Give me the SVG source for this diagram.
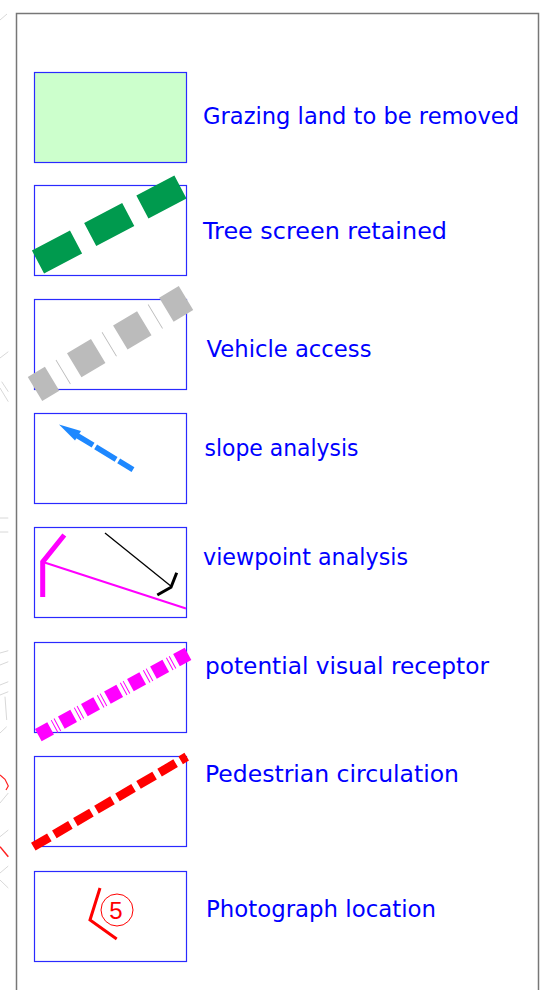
<svg xmlns="http://www.w3.org/2000/svg" width="541" height="990" viewBox="0 0 541 990">
<style>
.box{fill:#fff;stroke:#2a2aff;stroke-width:1.2}
.lbl{font-family:"DejaVu Sans",sans-serif;font-size:23px;fill:#0000ff}
.bg{stroke:#d8d8d8;stroke-width:1;fill:none}
</style>
<rect width="541" height="990" fill="#fff"/>
<g id="background">
<line class="bg" x1="0" y1="20" x2="7" y2="14"/>
<line class="bg" x1="0" y1="358" x2="8.3" y2="351.7"/>
<line class="bg" x1="1.7" y1="381.7" x2="8.3" y2="391.7"/>
<line class="bg" x1="0" y1="388" x2="8.3" y2="401.7"/>
<line class="bg" x1="0" y1="518" x2="8.3" y2="518"/>
<line class="bg" x1="0" y1="532" x2="8.3" y2="532"/>
<line class="bg" x1="0" y1="653" x2="8.3" y2="650.7"/>
<line class="bg" x1="0" y1="665" x2="8.3" y2="661.7"/>
<line class="bg" x1="0" y1="685" x2="8.3" y2="681.7"/>
<line class="bg" x1="0" y1="695" x2="8.3" y2="691.7"/>
<line class="bg" x1="5" y1="696.7" x2="6.7" y2="720"/>
<line class="bg" x1="0" y1="733" x2="6.7" y2="726.7"/>
<line class="bg" x1="0" y1="803" x2="8.3" y2="793"/>
<line class="bg" x1="0" y1="836.7" x2="8.3" y2="830"/>
<line class="bg" x1="0" y1="873" x2="8.3" y2="866"/>
<line class="bg" x1="0" y1="880" x2="8.3" y2="888"/>
<polyline points="0,775 5,779.3 8.3,786 6,790" fill="none" stroke="#ff2020" stroke-width="1.2"/>
<line x1="0" y1="846.7" x2="8.3" y2="856.7" stroke="#ff2020" stroke-width="1.5"/>
</g>
<g id="frame">
<polyline points="16.5,990 16.5,13.5 538.5,13.5 538.5,990" fill="none" stroke="#777" stroke-width="1.5"/>
</g>
<g id="grazing-land">
<rect x="34.5" y="72.5" width="152" height="90" fill="#ccffcc" stroke="#2a2aff" stroke-width="1.2"/>
<text class="lbl" x="203" y="124" textLength="316" lengthAdjust="spacingAndGlyphs">Grazing land to be removed</text>
</g>
<g id="tree-screen">
<rect class="box" x="34.5" y="185.5" width="152" height="90"/>
<line x1="38" y1="262" x2="187" y2="183.5" stroke="#009a4e" stroke-width="26" stroke-dasharray="43 16"/>
<text class="lbl" x="203" y="238.5" textLength="244" lengthAdjust="spacingAndGlyphs">Tree screen retained</text>
</g>
<g id="vehicle-access">
<rect class="box" x="34.5" y="299.5" width="152" height="90"/>
<line x1="35" y1="389" x2="186" y2="298" stroke="#bbbbbb" stroke-width="28" stroke-dasharray="28 12.5 0.8 12.5" stroke-dashoffset="8"/>
<text class="lbl" x="206.5" y="357" textLength="165" lengthAdjust="spacingAndGlyphs">Vehicle access</text>
</g>
<g id="slope-analysis">
<rect class="box" x="34.5" y="413.5" width="152" height="90"/>
<polygon points="59,424.5 81,431 75,440.5" fill="#1e88ff"/>
<line x1="76" y1="434.8" x2="133" y2="469.6" stroke="#1e88ff" stroke-width="5.5" stroke-dasharray="20 3 24 3 17"/>
<text class="lbl" x="204.5" y="455.5" textLength="154" lengthAdjust="spacingAndGlyphs">slope analysis</text>
</g>
<g id="viewpoint-analysis">
<rect class="box" x="34.5" y="527.5" width="152" height="90"/>
<polyline points="42.7,597 42.7,562 64.3,535" fill="none" stroke="#ff00ff" stroke-width="5"/>
<line x1="43" y1="562" x2="186" y2="608.5" stroke="#ff00ff" stroke-width="2"/>
<line x1="105" y1="533" x2="171.7" y2="586.7" stroke="#000" stroke-width="1.3"/>
<polyline points="176.7,572.7 171,587.3 157.3,595" fill="none" stroke="#000" stroke-width="3"/>
<text class="lbl" x="203" y="564.5" textLength="205" lengthAdjust="spacingAndGlyphs">viewpoint analysis</text>
</g>
<g id="visual-receptor">
<rect class="box" x="34.5" y="642.5" width="152" height="90"/>
<line x1="38.3" y1="735.1" x2="188" y2="653.9" stroke="#ff00ff" stroke-width="14" stroke-dasharray="14 4 1 2.2 1 4"/>
<text class="lbl" x="205" y="673.5" textLength="284" lengthAdjust="spacingAndGlyphs">potential visual receptor</text>
</g>
<g id="pedestrian">
<rect class="box" x="34.5" y="756.5" width="152" height="90"/>
<line x1="33.3" y1="846.7" x2="186.7" y2="756.7" stroke="#ff0000" stroke-width="9" stroke-dasharray="18.6 5.8"/>
<text class="lbl" x="205" y="781.5" textLength="254" lengthAdjust="spacingAndGlyphs">Pedestrian circulation</text>
</g>
<g id="photograph">
<rect class="box" x="34.5" y="871.5" width="152" height="90"/>
<polyline points="100,888 90,920 116.7,939" fill="none" stroke="#ff0000" stroke-width="3"/>
<circle cx="117" cy="910" r="16" fill="none" stroke="#ff0000" stroke-width="1"/>
<text x="116" y="919" text-anchor="middle" font-family="Liberation Sans, sans-serif" font-size="24" fill="#ff0000">5</text>
<text class="lbl" x="206" y="916.5" textLength="230" lengthAdjust="spacingAndGlyphs">Photograph location</text>
</g>
</svg>
